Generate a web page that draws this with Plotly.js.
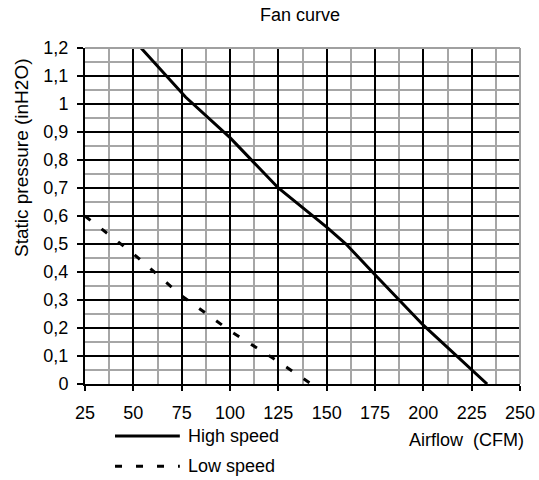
<!DOCTYPE html>
<html>
<head>
<meta charset="utf-8">
<script src="https://cdn.plot.ly/plotly-3.0.1.min.js"></script>
<style>
  html, body { margin: 0; padding: 0; background: #ffffff; }
  #chart { width: 539px; height: 480px; }
</style>
</head>
<body>
<div id="chart"></div>
<script>
// ---- data ----
const highSpeedX = [54, 77, 100, 125, 150, 160, 175, 200, 233];
const highSpeedY = [1.2, 1.025, 0.88, 0.7, 0.56, 0.5, 0.39, 0.21, 0];

const lowSpeedX = [25, 50, 75, 100, 125, 142];
const lowSpeedY = [0.6, 0.465, 0.315, 0.19, 0.08, 0];

const xTickVals = [25, 50, 75, 100, 125, 150, 175, 200, 225, 250];
const xTickText = ["25", "50", "75", "100", "125", "150", "175", "200", "225", "250"];
const xMinorVals = [37.5, 62.5, 87.5, 112.5, 137.5, 162.5, 187.5, 212.5, 237.5];
const yTickVals = [0, 0.1, 0.2, 0.3, 0.4, 0.5, 0.6, 0.7, 0.8, 0.9, 1, 1.1, 1.2];
const yTickText = ["0", "0,1", "0,2", "0,3", "0,4", "0,5", "0,6", "0,7", "0,8", "0,9", "1", "1,1", "1,2"];
const yMinorVals = [0.05, 0.15, 0.25, 0.35, 0.45, 0.55, 0.65, 0.75, 0.85, 0.95, 1.05, 1.15];

const seriesNames = ["High speed", "Low speed"];
const chartTitle = "Fan curve";
const xTitle = "Airflow  (CFM)";
const yTitle = "Static pressure (inH2O)";

// ---- styling ----
const FONT = "Liberation Sans, Arial, sans-serif";
const FS = 18;
const DASH = "7px,14px";

const traces = [
  { x: highSpeedX, y: highSpeedY, name: seriesNames[0], type: "scatter", mode: "lines",
    line: { color: "#000000", width: 3 }, showlegend: false, hoverinfo: "skip" },
  { x: lowSpeedX, y: lowSpeedY, name: seriesNames[1], type: "scatter", mode: "lines",
    line: { color: "#000000", width: 3, dash: DASH }, showlegend: false, hoverinfo: "skip" }
];

const legendY = [-0.155, -0.245];

const layout = {
  width: 539, height: 480,
  margin: { l: 85, r: 19, t: 48, b: 96 },
  paper_bgcolor: "#ffffff", plot_bgcolor: "#ffffff",
  font: { family: FONT, size: FS, color: "#000000" },
  separators: ", ",
  showlegend: false,
  hovermode: false,
  title: { text: chartTitle, font: { family: FONT, size: FS, color: "#000" },
           x: 300 / 539, xref: "container", xanchor: "center",
           y: 1 - 15 / 480, yref: "container", yanchor: "middle" },
  xaxis: {
    range: [25, 250], tickmode: "array", tickvals: xTickVals, ticktext: xTickText,
    showgrid: true, gridcolor: "#000000", gridwidth: 2,
    showline: true, linecolor: "#000000", linewidth: 2,
    ticks: "outside", ticklen: 5, tickwidth: 2, tickcolor: "#000000",
    ticklabelstandoff: 6,
    zeroline: false, fixedrange: true,
    minor: { tickmode: "array", tickvals: xMinorVals, showgrid: true, gridcolor: "#a6a6a6", gridwidth: 2, ticks: "" }
  },
  yaxis: {
    range: [0, 1.2], tickmode: "array", tickvals: yTickVals, ticktext: yTickText,
    showgrid: true, gridcolor: "#000000", gridwidth: 2,
    showline: true, linecolor: "#000000", linewidth: 2,
    ticks: "outside", ticklen: 6, tickwidth: 2, tickcolor: "#000000",
    ticklabelstandoff: 5,
    zeroline: false, fixedrange: true,
    minor: { tickmode: "array", tickvals: yMinorVals, showgrid: true, gridcolor: "#a6a6a6", gridwidth: 2, ticks: "" }
  },
  shapes: [
    { type: "line", xref: "paper", yref: "paper", x0: 0, x1: 1, y0: 1, y1: 1, line: { color: "#a0a0a0", width: 2 }, layer: "above" },
    { type: "line", xref: "paper", yref: "paper", x0: 1, x1: 1, y0: 0, y1: 1, line: { color: "#a0a0a0", width: 2 }, layer: "above" },
    { type: "line", xref: "paper", yref: "paper", x0: 0.069, x1: 0.218, y0: legendY[0], y1: legendY[0], line: { color: "#000", width: 3 } },
    { type: "line", xref: "paper", yref: "paper", x0: 0.069, x1: 0.218, y0: legendY[1], y1: legendY[1], line: { color: "#000", width: 3, dash: DASH } }
  ],
  annotations: [
    { text: yTitle, textangle: -90, xref: "paper", yref: "paper",
      x: (21 - 85) / 435, y: (384 - 158) / 336, xanchor: "center", yanchor: "middle",
      showarrow: false, font: { family: FONT, size: 19, color: "#000" } },
    { text: xTitle, xref: "paper", yref: "paper", x: (526 - 85) / 435, y: (384 - 440) / 336,
      xanchor: "right", yanchor: "middle", showarrow: false, font: { family: FONT, size: FS, color: "#000" } },
    { text: seriesNames[0], xref: "paper", yref: "paper", x: 0.232, y: legendY[0],
      xanchor: "left", yanchor: "middle", showarrow: false, font: { family: FONT, size: FS, color: "#000" } },
    { text: seriesNames[1], xref: "paper", yref: "paper", x: 0.232, y: legendY[1],
      xanchor: "left", yanchor: "middle", showarrow: false, font: { family: FONT, size: FS, color: "#000" } }
  ]
};

Plotly.newPlot("chart", traces, layout, { displayModeBar: false, staticPlot: false });
</script>
</body>
</html>
